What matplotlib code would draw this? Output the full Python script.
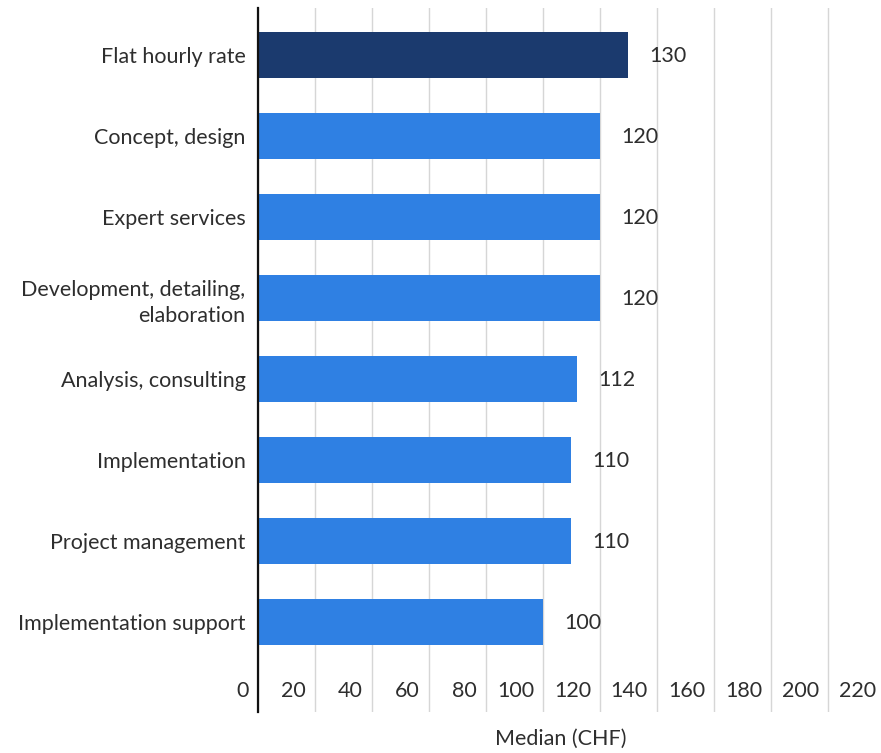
import matplotlib
matplotlib.use("Agg")
import matplotlib.pyplot as plt
from matplotlib.transforms import ScaledTranslation

# Median hourly rates by service type
categories = [
    "Flat hourly rate",
    "Concept, design",
    "Expert services",
    "Development, detailing,\nelaboration",
    "Analysis, consulting",
    "Implementation",
    "Project management",
    "Implementation support",
]
medians = [130, 120, 120, 120, 112, 110, 110, 100]
x_ticks = list(range(0, 221, 20))

DARK = "#1b3a6e"
BLUE = "#2f80e3"
TEXT = "#2e2e2e"
FS = 15.5

plt.rcParams["font.family"] = ["Lato", "DejaVu Sans"]

W, H, DPI = 881, 753, 100
fig = plt.figure(figsize=(W / DPI, H / DPI), dpi=DPI, facecolor="white")
ax = fig.add_axes([258 / W, 1 - 712 / H, (885 - 258) / W, (712 - 8) / H])

colors = [DARK] + [BLUE] * (len(categories) - 1)
pos = list(range(len(categories)))
ax.barh(pos, medians, height=0.57, color=colors, zorder=2)

for p, v in zip(pos, medians):
    ax.annotate(str(v), (v, p), xytext=(15, -1), textcoords="offset points",
                ha="left", va="center", fontsize=FS, color=TEXT)

ax.set_ylim(8.11, -0.58)
ax.set_xlim(0, 220)
ax.set_yticks(pos)
ax.set_yticklabels(categories, fontsize=FS, color=TEXT, linespacing=1.35)
ax.set_xticks(x_ticks)
ax.set_xticklabels([str(t) for t in x_ticks], fontsize=FS, color=TEXT)

ax.tick_params(axis="y", length=0, pad=9)
ax.tick_params(axis="x", length=0, pad=-22)
shift = ScaledTranslation(-9 / DPI, 0, fig.dpi_scale_trans)
for lbl in ax.get_xticklabels():
    lbl.set_horizontalalignment("right")
    lbl.set_transform(lbl.get_transform() + shift)

ax.grid(axis="x", color="#d6d6d6", linewidth=1, zorder=0)
for s in ["top", "right", "bottom"]:
    ax.spines[s].set_visible(False)
ax.spines["left"].set_color("#111111")
ax.spines["left"].set_linewidth(1.6)
ax.spines["left"].set_zorder(3)

fig.text(561 / W, 1 - 739 / H, "Median (CHF)", ha="center", va="center",
         fontsize=FS, color=TEXT)

fig.savefig("out.png", dpi=DPI, facecolor="white")
